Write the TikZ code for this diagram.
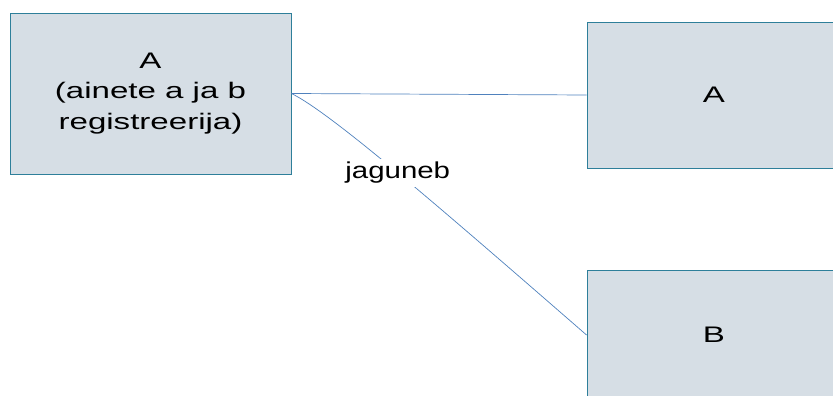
\documentclass[tikz,border=0pt]{standalone}
\usepackage{fontspec}
\setmainfont{Liberation Sans}
\newfontfamily\boxfont[FakeStretch=1.47]{Liberation Sans}
\newfontfamily\lblfont[FakeStretch=1.28]{Liberation Sans}
\definecolor{boxfill}{HTML}{D6DEE5}
\definecolor{boxdraw}{HTML}{2E7F9A}
\definecolor{linkcol}{HTML}{4F81BD}
\begin{document}
\begin{tikzpicture}[x=1pt,y=-1pt,
  box/.style={draw=boxdraw, fill=boxfill, line width=0.9pt, inner sep=0pt, align=center,
    font=\boxfont\fontsize{22.5}{30.5}\selectfont},
  link/.style={draw=linkcol, line width=0.7pt},
  lbl/.style={fill=white, inner sep=3pt, font=\lblfont\fontsize{23}{26}\selectfont}]
\useasboundingbox (0,0) rectangle (833,396);
\clip (0,0) rectangle (833,396);
\node[box, minimum width=281pt, minimum height=161pt] (a) at (150.5,93.5) {A\\(ainete a ja b\\registreerija)};
\node[box, minimum width=254pt, minimum height=146pt] (ra) at (714,95) {A};
\node[box, minimum width=254pt, minimum height=130pt] (rb) at (714,335) {B};
\draw[link] (a.east) -- (ra.west);
\draw[link] (a.east) .. controls (331,113) and (437,205) .. node[lbl, pos=0.5] {jaguneb} (rb.west);
\end{tikzpicture}
\end{document}
